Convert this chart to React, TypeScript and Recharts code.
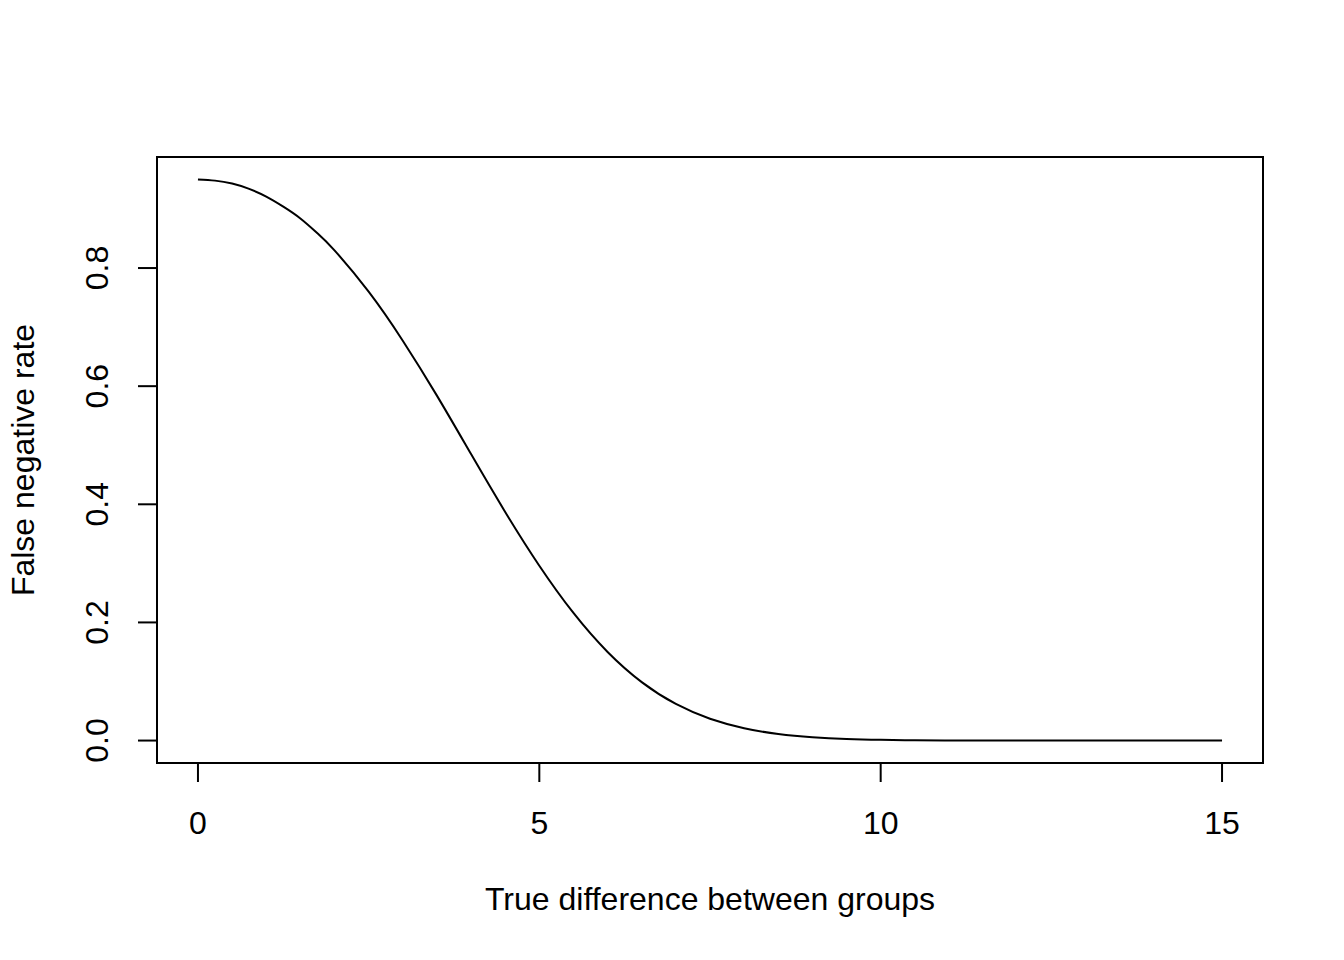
import * as React from 'react';
import {LineChart, Line, XAxis, YAxis, ReferenceArea} from "recharts";

// true difference between groups (x) and the false negative rate (y)
const differences: number[] = [
    0, 0.25, 0.5, 0.75, 1, 1.25, 1.5, 1.75, 2, 2.5, 3, 3.5, 4, 4.5, 5, 5.5, 6, 6.5, 7, 7.5,
    8, 8.5, 9, 9.5, 10, 10.5, 11, 11.5, 12, 12.5, 13, 13.5, 14, 14.5, 15,
];
const falseNegRates: number[] = [
    0.95, 0.948, 0.943, 0.934, 0.921, 0.904, 0.884, 0.859, 0.83, 0.76, 0.677, 0.584, 0.485, 0.387, 0.296, 0.216, 0.15, 0.099, 0.062, 0.037,
    0.021, 0.011, 0.0055, 0.0026, 0.0012, 0.0005, 0.0002, 0.0001, 0, 0, 0, 0, 0, 0, 0,
];
const xTicks: number[] = [0, 5, 10, 15];
const yTicks: number[] = [0, 0.2, 0.4, 0.6, 0.8];

const xTitle = "True difference between groups";
const yTitle = "False negative rate";

// R pads each axis range by 4%
const xDomain: [number, number] = [-0.6, 15.6];
const yDomain: [number, number] = [-0.038, 0.988];

const FONT = '"Liberation Sans", Arial, Helvetica, sans-serif';
const FONT_SIZE = 32;

function XTick(props: any) {
    const {x, y, payload} = props;
    return (
        <text x={x} y={y + 52} textAnchor="middle" fontFamily={FONT} fontSize={FONT_SIZE} fill="#000">
            {payload.value}
        </text>
    );
}

function YTick(props: any) {
    const {x, y, payload} = props;
    const bx = x - 30;
    return (
        <text x={bx} y={y} transform={`rotate(-90, ${bx}, ${y})`} textAnchor="middle"
              fontFamily={FONT} fontSize={FONT_SIZE} fill="#000">
            {Number(payload.value).toFixed(1)}
        </text>
    );
}

function XTitle(props: any) {
    const vb = props.viewBox;
    return (
        <text x={vb.x + vb.width / 2} y={vb.y + 147} textAnchor="middle"
              fontFamily={FONT} fontSize={FONT_SIZE} fill="#000">
            {xTitle}
        </text>
    );
}

function YTitle(props: any) {
    const vb = props.viewBox;
    const bx = vb.x + vb.width - 123;
    const cy = vb.y + vb.height / 2;
    return (
        <text x={bx} y={cy} transform={`rotate(-90, ${bx}, ${cy})`} textAnchor="middle"
              fontFamily={FONT} fontSize={FONT_SIZE} fill="#000">
            {yTitle}
        </text>
    );
}

export default function App() {
    const data = differences.map((d, i) => ({diff: d, fnr: falseNegRates[i]}));

    return (
        <div style={{position: 'absolute', left: 0, top: 0, background: '#fff'}}>
            <LineChart width={1344} height={960} data={data}
                       margin={{top: 157, right: 81, bottom: 167, left: 97}}>
                <XAxis dataKey="diff" type="number" domain={xDomain} ticks={xTicks}
                       allowDataOverflow height={30} axisLine={false}
                       tickSize={19} tickMargin={0} tickLine={{stroke: '#000', strokeWidth: 2}}
                       tick={<XTick/>} label={<XTitle/>}/>
                <YAxis type="number" domain={yDomain} ticks={yTicks} allowDataOverflow
                       width={60} axisLine={false}
                       tickSize={19} tickMargin={0} tickLine={{stroke: '#000', strokeWidth: 2}}
                       tick={<YTick/>} label={<YTitle/>}/>
                <ReferenceArea x1={xDomain[0]} x2={xDomain[1]} y1={yDomain[0]} y2={yDomain[1]}
                               fill="none" fillOpacity={0} stroke="#000" strokeWidth={2} ifOverflow="visible"/>
                <Line type="natural" dataKey="fnr" stroke="#000" strokeWidth={2}
                      dot={false} activeDot={false} isAnimationActive={false}/>
            </LineChart>
        </div>
    );
}
